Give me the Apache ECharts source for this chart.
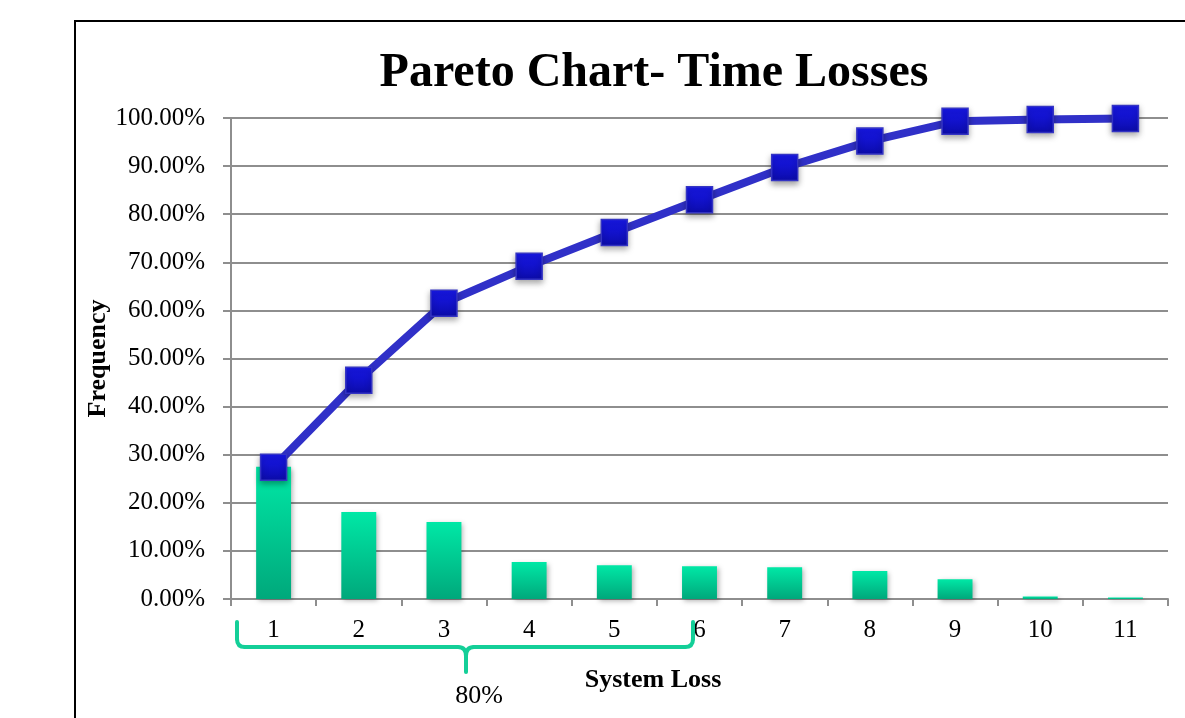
<!DOCTYPE html>
<html>
<head>
<meta charset="utf-8">
<script src="https://cdn.jsdelivr.net/npm/echarts@6/dist/echarts.min.js"></script>
<style>
  html, body { margin: 0; padding: 0; background: #ffffff; }
  #chart { width: 1185px; height: 718px; }
</style>
</head>
<body>
<div id="chart"></div>
<script>
// System loss categories
const categories = ['1', '2', '3', '4', '5', '6', '7', '8', '9', '10', '11'];
// Share of total time lost per category (%)
const frequency = [27.5, 18.1, 16.0, 7.7, 7.0, 6.8, 6.6, 5.8, 4.1, 0.5, 0.3];
// Cumulative share (%)
const cumulative = [27.4, 45.5, 61.5, 69.2, 76.2, 83.0, 89.7, 95.2, 99.3, 99.7, 99.9];
// Y-axis tick settings
const yMin = 0, yMax = 100, yStep = 10;

const serif = '"Liberation Serif", "Times New Roman", serif';
const grey = '#8e8e8e';
const braceColor = '#14cf98';

const chart = echarts.init(document.getElementById('chart'), null, { renderer: 'canvas' });

// Curly brace under categories 1-6, built from straight segments and quadratic corners
const braceStyle = { stroke: braceColor, lineWidth: 4, lineCap: 'round', fill: 'none' };
function seg(x1, y1, x2, y2) {
  return { type: 'line', shape: { x1, y1, x2, y2 }, style: braceStyle, z: 10, silent: true };
}
function corner(x1, y1, cx, cy, x2, y2) {
  return { type: 'bezierCurve', shape: { x1, y1, x2, y2, cpx1: cx, cpy1: cy }, style: braceStyle, z: 10, silent: true };
}
const brace = [
  seg(237, 622, 237, 639),
  corner(237, 639, 237, 647, 245, 647),
  seg(245, 647, 458, 647),
  corner(458, 647, 466, 647, 466, 656),
  seg(466, 656, 466, 672),
  corner(466, 656, 466, 647, 474, 647),
  seg(474, 647, 685, 647),
  corner(685, 647, 693, 647, 693, 639),
  seg(693, 639, 693, 622)
];

chart.setOption({
  backgroundColor: '#ffffff',
  animation: false,
  title: {
    text: 'Pareto Chart- Time Losses',
    left: 649,
    top: 45,
    textAlign: 'center',
    textStyle: { fontFamily: serif, fontWeight: 'bold', fontSize: 48, color: '#000' }
  },
  grid: { left: 231, right: 17, top: 118, bottom: 119, containLabel: false },
  xAxis: {
    type: 'category',
    data: categories,
    boundaryGap: true,
    axisLine: { show: true, lineStyle: { color: grey, width: 2 } },
    axisTick: { show: true, alignWithLabel: false, length: 7, lineStyle: { color: grey, width: 2 } },
    axisLabel: { fontFamily: serif, fontSize: 25, color: '#000', margin: 19 },
    splitLine: { show: false }
  },
  yAxis: {
    type: 'value',
    min: yMin,
    max: yMax,
    interval: yStep,
    name: 'Frequency',
    nameLocation: 'middle',
    nameGap: 120,
    nameMoveOverlap: false,
    nameRotate: 90,
    nameTextStyle: { fontFamily: serif, fontWeight: 'bold', fontSize: 26, color: '#000' },
    axisLine: { show: true, lineStyle: { color: grey, width: 2 } },
    axisTick: { show: true, inside: false, length: 8, lineStyle: { color: grey, width: 2 } },
    axisLabel: {
      fontFamily: serif, fontSize: 25, color: '#000', margin: 26,
      formatter: v => v.toFixed(2) + '%'
    },
    splitLine: { show: true, lineStyle: { color: grey, width: 2 } }
  },
  series: [
    {
      name: 'Frequency',
      type: 'bar',
      data: frequency,
      barWidth: '41%',
      itemStyle: {
        color: new echarts.graphic.LinearGradient(0, 0, 0, 1, [
          { offset: 0, color: '#00e8a6' },
          { offset: 1, color: '#00a87b' }
        ]),
        shadowColor: 'rgba(0,0,0,0.3)',
        shadowBlur: 5,
        shadowOffsetX: 2,
        shadowOffsetY: 2
      },
      z: 2
    },
    {
      name: 'Cumulative',
      type: 'line',
      data: cumulative,
      symbol: 'rect',
      symbolSize: 26,
      lineStyle: { color: '#3030c8', width: 8 },
      itemStyle: {
        color: new echarts.graphic.LinearGradient(0, 0, 0, 1, [
          { offset: 0, color: '#1818ec' },
          { offset: 1, color: '#0c0caa' }
        ]),
        borderColor: '#3434c4',
        borderWidth: 1.5,
        shadowColor: 'rgba(0,0,0,0.35)',
        shadowBlur: 6,
        shadowOffsetY: 3
      },
      z: 3
    }
  ],
  graphic: [
    {
      type: 'rect',
      shape: { x: 75, y: 21, width: 1200, height: 800 },
      style: { fill: 'none', stroke: '#000', lineWidth: 2 },
      silent: true,
      z: 0
    },
    ...brace,
    {
      type: 'text',
      x: 479,
      y: 696,
      style: { text: '80%', fontFamily: serif, fontSize: 26, fill: '#000', align: 'center', verticalAlign: 'middle' },
      z: 10
    },
    {
      type: 'text',
      x: 653,
      y: 680,
      style: { text: 'System Loss', fontFamily: serif, fontWeight: 'bold', fontSize: 26, fill: '#000', align: 'center', verticalAlign: 'middle' },
      z: 10
    }
  ]
});
</script>
</body>
</html>
